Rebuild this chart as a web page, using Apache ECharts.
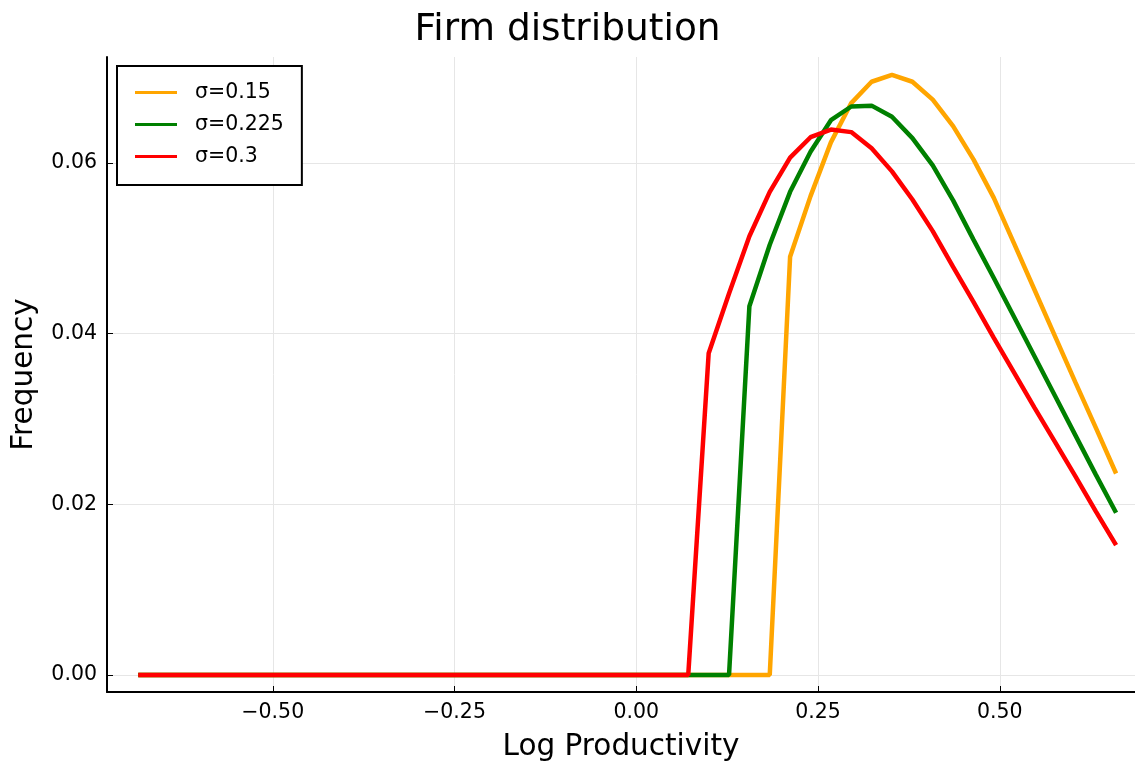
<!DOCTYPE html>
<html>
<head>
<meta charset="utf-8">
<script src="https://cdn.jsdelivr.net/npm/echarts@6/dist/echarts.min.js"></script>
<style>
html,body{margin:0;padding:0;background:#fff;overflow:hidden;}
#chart{width:1135px;height:761px;}
</style>
</head>
<body>
<div id="chart"></div>
<script>
var xValues = [-0.6850,-0.6570,-0.6290,-0.6009,-0.5729,-0.5449,-0.5169,-0.4889,-0.4608,-0.4328,
  -0.4048,-0.3768,-0.3488,-0.3207,-0.2927,-0.2647,-0.2367,-0.2087,-0.1806,-0.1526,
  -0.1246,-0.0966,-0.0686,-0.0405,-0.0125,0.0155,0.0435,0.0715,0.0996,0.1276,
  0.1556,0.1836,0.2116,0.2397,0.2677,0.2957,0.3237,0.3517,0.3798,0.4078,
  0.4358,0.4638,0.4918,0.5199,0.5479,0.5759,0.6039,0.6319,0.6600];

var sigma015 = [0,0,0,0,0,0,0,0,0,0, 0,0,0,0,0,0,0,0,0,0, 0,0,0,0,0,0,0,0,0,0,
  0,0,0.0490,0.0561,0.0624,0.0670,0.0695,0.0703,0.0695,0.0674,
  0.0643,0.0604,0.0559,0.0505,0.0451,0.0397,0.0343,0.0290,0.0236];

var sigma0225 = [0,0,0,0,0,0,0,0,0,0, 0,0,0,0,0,0,0,0,0,0, 0,0,0,0,0,0,0,0,0,0,
  0.0432,0.0504,0.0566,0.0613,0.0650,0.0666,0.0667,0.0654,0.0629,0.0597,
  0.0556,0.0510,0.0465,0.0419,0.0373,0.0327,0.0281,0.0235,0.0190];

var sigma03 = [0,0,0,0,0,0,0,0,0,0, 0,0,0,0,0,0,0,0,0,0, 0,0,0,0,0,0,0,0,
  0.0377,0.0447,0.0514,0.0566,0.0606,0.0630,0.0639,0.0636,0.0617,0.0590,
  0.0557,0.0520,0.0478,0.0437,0.0395,0.0354,0.0313,0.0273,0.0233,0.0192,0.0152];

var seriesNames = ['σ=0.15', 'σ=0.225', 'σ=0.3'];
var seriesColors = ['#FFA500', '#008000', '#FF0000'];
var xTicks = [-0.5, -0.25, 0, 0.25, 0.5];
var yTicks = [0, 0.02, 0.04, 0.06];

function pairs(ys) {
  var out = [];
  for (var i = 0; i < xValues.length; i++) out.push([xValues[i], ys[i]]);
  return out;
}
function fmt(v) {
  var s = Math.abs(v).toFixed(2);
  return (v < -1e-9 ? '\u2212' : '') + s;
}

var FONT = 'DejaVu Sans';
var allData = [sigma015, sigma0225, sigma03];
var series = seriesNames.map(function (n, k) {
  return {
    name: n,
    type: 'line',
    data: pairs(allData[k]),
    showSymbol: false,
    symbol: 'none',
    lineStyle: { color: seriesColors[k], width: 4.5 },
    itemStyle: { color: seriesColors[k] },
    z: 2 + k,
    animation: false
  };
});

var chart = echarts.init(document.getElementById('chart'), null, { renderer: 'canvas' });
chart.setOption({
  animation: false,
  backgroundColor: '#fff',
  title: {
    text: 'Firm distribution',
    left: 'center',
    top: 6,
    textStyle: { fontFamily: FONT, fontSize: 37.5, fontWeight: 'normal', color: '#000' }
  },
  legend: {
    orient: 'vertical',
    left: 117,
    top: 66,
    data: seriesNames,
    icon: 'rect',
    backgroundColor: '#fff',
    borderColor: '#000',
    borderWidth: 2,
    borderRadius: 0,
    padding: [16, 18, 18, 18],
    itemWidth: 42,
    itemHeight: 3,
    itemGap: 11,
    textStyle: { fontFamily: FONT, fontSize: 20.5, color: '#000', padding: [0, 0, 0, 13] }
  },
  grid: { left: 107, right: 0, top: 57, height: 635, containLabel: false, outerBoundsMode: 'none' },
  xAxis: {
    type: 'value',
    min: -0.728,
    max: 0.686,
    name: 'Log Productivity',
    nameLocation: 'middle',
    nameGap: 40,
    nameTextStyle: { fontFamily: FONT, fontSize: 29.5, color: '#000' },
    axisLine: { show: true, onZero: false, lineStyle: { color: '#000', width: 2 } },
    axisTick: { show: true, inside: true, length: 6, lineStyle: { color: '#000', width: 1 }, customValues: xTicks },
    axisLabel: { fontFamily: FONT, fontSize: 20.5, color: '#000', margin: 10, customValues: xTicks, formatter: fmt },
    splitLine: { show: true, lineStyle: { color: '#e6e6e6', width: 1 } }
  },
  yAxis: {
    type: 'value',
    min: -0.002,
    max: 0.0724,
    name: 'Frequency',
    nameLocation: 'middle',
    nameGap: 68,
    nameTextStyle: { fontFamily: FONT, fontSize: 29.5, color: '#000' },
    axisLine: { show: true, onZero: false, lineStyle: { color: '#000', width: 2 } },
    axisTick: { show: true, inside: true, length: 6, lineStyle: { color: '#000', width: 1 }, customValues: yTicks },
    axisLabel: { fontFamily: FONT, fontSize: 20.5, color: '#000', margin: 10, customValues: yTicks, formatter: function (v) { return v.toFixed(2); } },
    splitLine: { show: true, lineStyle: { color: '#e6e6e6', width: 1 } }
  },
  series: series
});
</script>
</body>
</html>
